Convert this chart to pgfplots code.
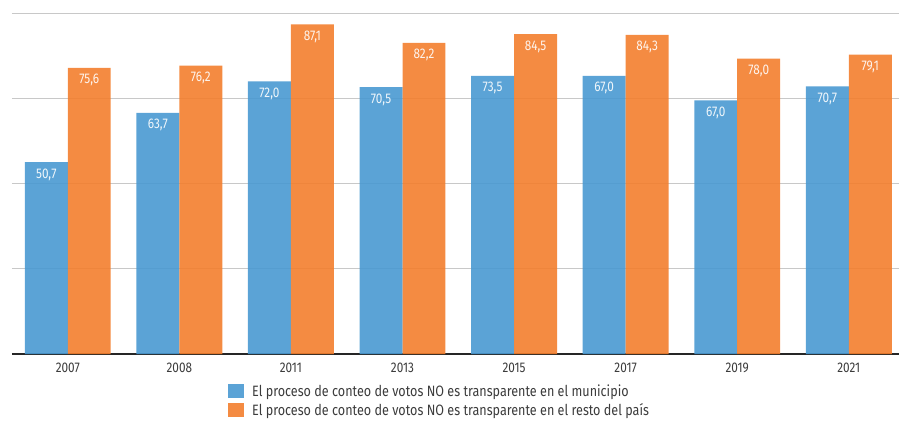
\documentclass[border=0pt]{standalone}
\usepackage{fontspec}
\setmainfont{Fira Sans}[FakeStretch=0.84]
\usepackage{pgfplots}
\pgfplotsset{compat=1.18}
\definecolor{cblue}{RGB}{73,153,209}
\definecolor{corange}{RGB}{243,126,45}
\definecolor{ctext}{RGB}{60,60,60}
\definecolor{cgrid}{RGB}{200,200,200}
\begin{document}
\begin{tikzpicture}
\path[use as bounding box] (-12pt,-67pt) rectangle (887pt,354pt);
\begin{axis}[
  scale only axis,
  width=887pt, height=340.7pt,
  xmin=-0.5, xmax=7.45,
  ymin=0, ymax=90,
  ytick={22.5,45,67.5,90},
  yticklabels={},
  ymajorgrids,
  grid style={cgrid, line width=1.3pt},
  axis x line*=bottom,
  axis y line*=left,
  y axis line style={draw=none},
  x axis line style={-, line width=1.4pt, color=black!85},
  xtick=data,
  xticklabels={2007,2008,2011,2013,2015,2017,2019,2021},
  major tick length=0pt,
  xticklabel style={font=\fontsize{14}{16}\selectfont, text=ctext, yshift=-5pt},
  ybar, bar width=0.385,
  point meta=explicit symbolic,
  nodes near coords,
  nodes near coords style={font=\fontsize{14}{16}\selectfont, text=white, anchor=north, yshift=-3pt},
  legend style={at={(axis description cs:0.2435,-0.083)}, anchor=north west, draw=none, fill=none,
    font=\fontsize{15}{16}\selectfont, text=ctext, row sep=2pt, inner sep=0pt,
    /tikz/every odd column/.append style={column sep=6pt}},
  legend cell align=left,
  legend image code/.code={\fill[#1] (0pt,-7pt) rectangle (16pt,7pt);},
]
\addplot[fill=cblue, draw=none, fill opacity=0.9, bar shift=-0.1925] coordinates {
  (0,50.7) [50,7] (1,63.7) [63,7] (2,72.0) [72,0] (3,70.5) [70,5]
  (4,73.5) [73,5] (5,73.5) [67,0] (6,67.0) [67,0] (7,70.7) [70,7]};
\addplot[fill=corange, draw=none, fill opacity=0.9, bar shift=0.1925] coordinates {
  (0,75.6) [75,6] (1,76.2) [76,2] (2,87.1) [87,1] (3,82.2) [82,2]
  (4,84.5) [84,5] (5,84.3) [84,3] (6,78.0) [78,0] (7,79.1) [79,1]};
\legend{El proceso de conteo de votos NO es transparente en el municipio, El proceso de conteo de votos NO es transparente en el resto del país}
\end{axis}
\end{tikzpicture}
\end{document}
